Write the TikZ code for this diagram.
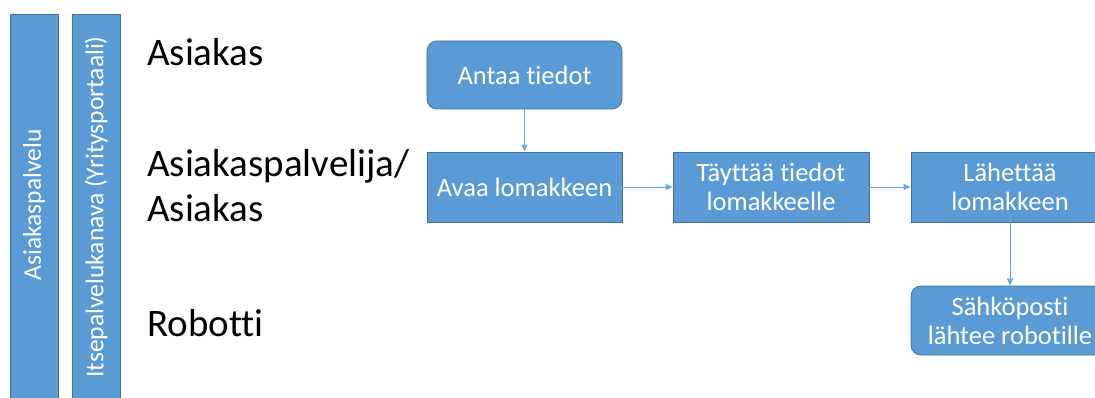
\documentclass[tikz,border=0pt]{standalone}
\usepackage{fontspec}
\setmainfont{Carlito}[Ligatures=NoCommon]
\usetikzlibrary{arrows.meta}
\definecolor{boxfill}{HTML}{5B9BD5}
\definecolor{boxline}{HTML}{41719C}
\definecolor{linkline}{HTML}{6FA8DC}
\begin{document}
\begin{tikzpicture}[x=1pt,y=-1pt,
  lane/.style={draw=boxline, fill=boxfill, line width=0.8pt},
  lanetext/.style={text=white, font=\fontsize{25.5}{28}\selectfont, rotate=90},
  role/.style={anchor=base west, font=\fontsize{39}{45}\selectfont, align=left, inner sep=0pt},
  stepbox/.style={draw=boxline, fill=boxfill, line width=0.8pt, minimum width=195pt,
    minimum height=70pt, text=white, align=center, font=\fontsize{26.5}{29}\selectfont,
    inner sep=0pt},
  roundbox/.style={stepbox, rounded corners=10pt},
  link/.style={draw=linkline, line width=0.9pt, -{Triangle[length=7pt,width=6pt]}}
]
\useasboundingbox (0,0) rectangle (1095,398);

% swim-lane bars
\node[lane, minimum width=48pt, minimum height=390pt, inner sep=0pt, anchor=north west] (bar1) at (10,14) {};
\node[lane, minimum width=48pt, minimum height=390pt, inner sep=0pt, anchor=north west] (bar2) at (72,14) {};
\node[lanetext] (bar1t) at (34,205) {Asiakaspalvelu};
\node[lanetext] (bar2t) at (96,207) {Itsepalvelukanava (Yritysportaali)};

% role labels (base anchor sits on the last line)
\node[role] (r1) at (147,66) {Asiakas};
\node[role] (r2) at (147,222) {Asiakaspalvelija/\\Asiakas};
\node[role] (r3) at (147,336) {Robotti};

% process steps
\node[roundbox, minimum height=68pt] (antaa) at (524.5,75) {Antaa tiedot};
\node[stepbox] (avaa) at (524.5,187) {Avaa lomakkeen};
\node[stepbox, minimum width=196pt] (tayttaa) at (771,187) {Täyttää tiedot\\lomakkeelle};
\node[stepbox, minimum width=198pt] (lahettaa) at (1010,187) {Lähettää\\lomakkeen};
\node[roundbox, minimum width=198pt, minimum height=69pt] (sposti) at (1010,320.5) {Sähköposti\\lähtee robotille};

% flow
\draw[link] (antaa) -- (avaa);
\draw[link] (avaa) -- (tayttaa);
\draw[link] (tayttaa) -- (lahettaa);
\draw[link] (lahettaa) -- (sposti);
\end{tikzpicture}
\end{document}
